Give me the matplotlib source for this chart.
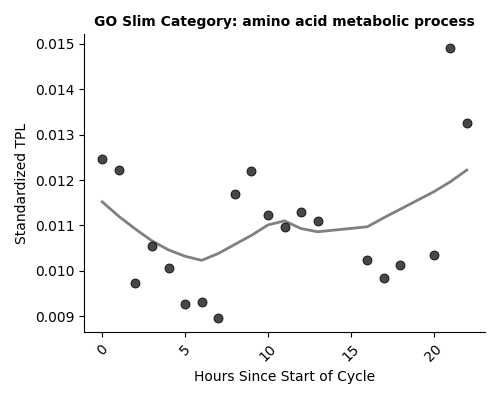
import numpy as np
import matplotlib
matplotlib.use('Agg')
from matplotlib import pyplot as plt

hours = [0, 1, 2, 3, 4, 5, 6, 7, 8, 9, 10, 11, 12, 13, 16, 17, 18, 20, 21, 22]
tpl = [0.01246, 0.01222, 0.00974, 0.01055, 0.01007, 0.00926, 0.00931, 0.00896,
       0.01169, 0.01220, 0.01123, 0.01097, 0.01130, 0.01110, 0.01023, 0.00983,
       0.01012, 0.01034, 0.01491, 0.01325]
trend = [0.01152, 0.01120, 0.01092, 0.01066, 0.01046, 0.01032, 0.01023, 0.01038,
         0.01058, 0.01078, 0.01101, 0.01110, 0.01093, 0.01086, 0.01097, 0.01117,
         0.01136, 0.01174, 0.01196, 0.01222]

fig = plt.figure(figsize=(5, 4), dpi=100)
ax = fig.add_axes([0.168, 0.17, 0.802, 0.745])
ax.scatter(hours, tpl, s=42, color='#333333', edgecolors='black', linewidths=0.6, alpha=0.9, zorder=3)
ax.plot(hours, trend, color='gray', lw=2, zorder=2)
ax.set_xlim(-1.1, 23.1)
ax.set_ylim(0.00865, 0.01522)
ax.set_xticks([0, 5, 10, 15, 20])
ax.set_yticks(np.arange(0.009, 0.0151, 0.001))
ax.set_yticklabels(['0.009', '0.010', '0.011', '0.012', '0.013', '0.014', '0.015'])
plt.setp(ax.get_xticklabels(), rotation=45)
ax.spines['top'].set_visible(False)
ax.spines['right'].set_visible(False)
ax.set_xlabel("Hours Since Start of Cycle")
ax.set_ylabel("Standardized TPL")
ax.set_title("GO Slim Category: amino acid metabolic process", fontsize=10, fontweight='bold')
fig.savefig('out.png', dpi=100)
